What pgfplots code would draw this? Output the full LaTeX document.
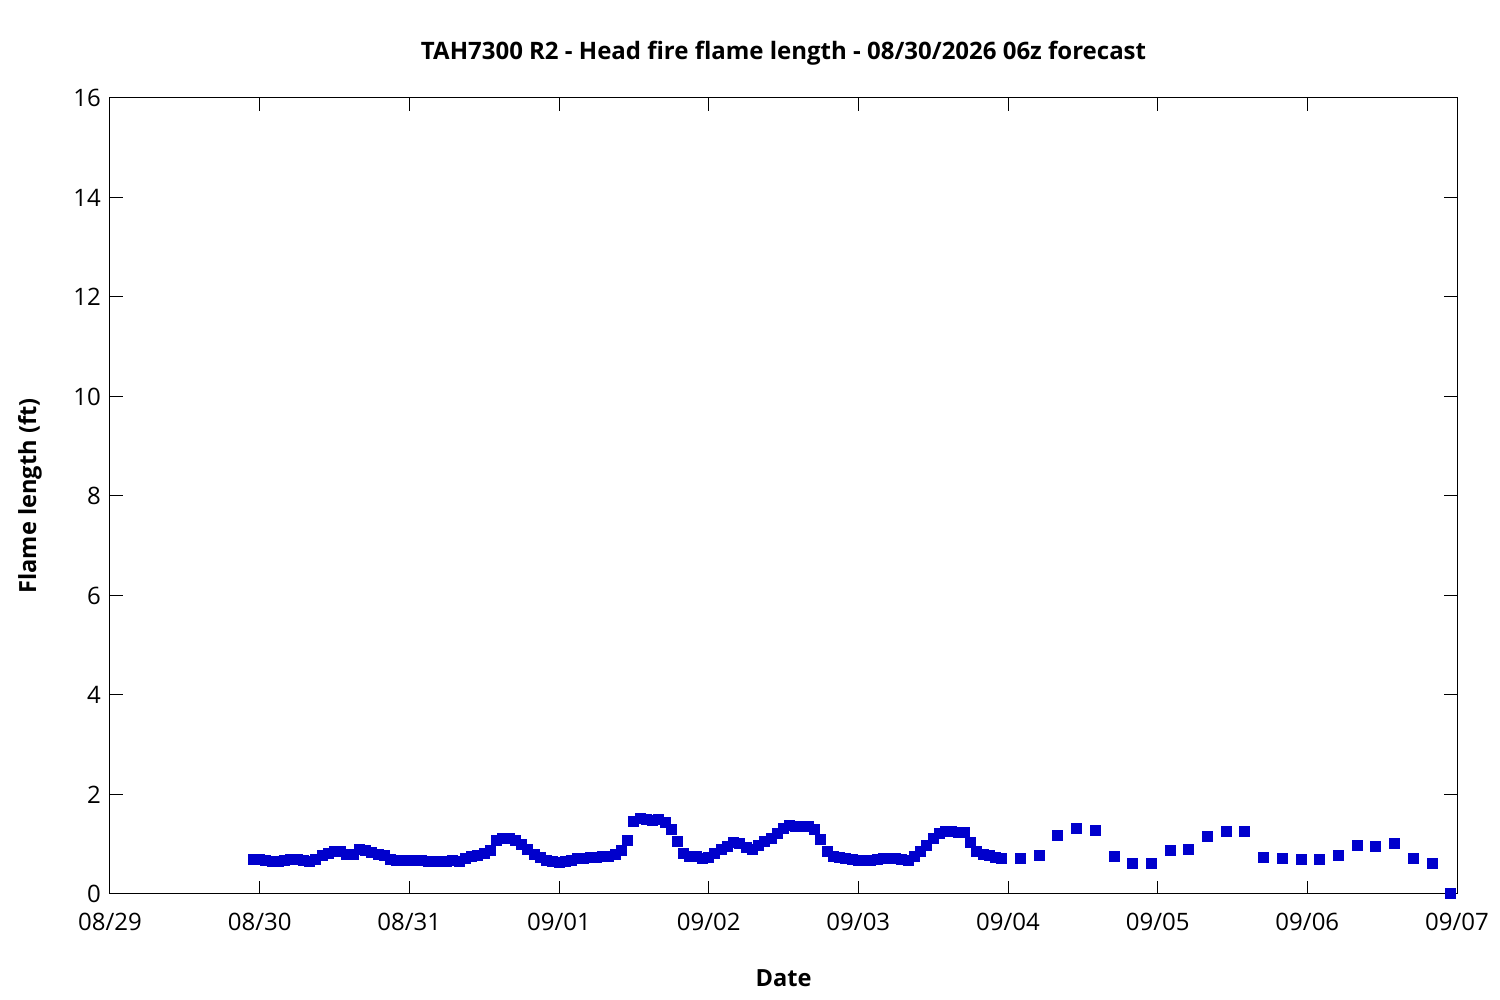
\documentclass[border=0pt]{standalone}
\usepackage{fontspec}
\setmainfont{Open Sans}
\usepackage{pgfplots}
\pgfplotsset{compat=1.18}
\definecolor{ptblue}{RGB}{0,0,204}
\begin{document}
\begin{tikzpicture}[font=\fontsize{12}{14}\selectfont]
\useasboundingbox (-55pt,-53pt) rectangle (695pt,447pt);
\begin{axis}[
  at={(0pt,0pt)}, anchor=south west,
  scale only axis, width=673.5pt, height=398pt,
  xmin=0, xmax=216, ymin=0, ymax=16,
  xtick={0,24,48,72,96,120,144,168,192,216},
  xticklabels={08/29,08/30,08/31,09/01,09/02,09/03,09/04,09/05,09/06,09/07},
  ytick={0,2,4,6,8,10,12,14,16},
  tick align=inside, tick pos=both, major tick length=6.3pt,
  axis line style={line width=0.5pt}, tick style={line width=0.5pt, black},
  /pgf/number format/assume math mode=true,
  xticklabel style={anchor=north, yshift=-6pt},
  yticklabel style={anchor=east, xshift=-1pt},
  title={\bfseries TAH7300 R2 - Head fire flame length - 08/30/2026 06z forecast},
  title style={font=\fontsize{12}{14}\selectfont\bfseries, at={(axis description cs:0.5,1)}, anchor=base, yshift=13pt},
  xlabel={\bfseries Date},
  xlabel style={font=\fontsize{11.8}{14}\selectfont\bfseries, at={([yshift=-42pt]axis description cs:0.5,0)}, anchor=center},
  ylabel={\bfseries Flame length (ft)},
  ylabel style={font=\fontsize{11.8}{14}\selectfont\bfseries, at={([xshift=-40pt]axis description cs:0,0.5)}, anchor=center},
  clip mode=individual,
]
\addplot[only marks, mark=square*, mark size=2.5pt, mark options={fill=ptblue, draw=ptblue, line width=0pt}] coordinates {
(23,0.69)(24,0.69)(25,0.67)(26,0.65)(27,0.66)(28,0.67)(29,0.69)(30,0.69)(31,0.67)(32,0.66)
(33,0.70)(34,0.78)(35,0.82)(36,0.85)(37,0.86)(38,0.80)(39,0.80)(40,0.90)(41,0.87)(42,0.84)
(43,0.80)(44,0.78)(45,0.70)(46,0.67)(47,0.67)(48,0.67)(49,0.67)(50,0.67)(51,0.65)(52,0.65)
(53,0.65)(54,0.65)(55,0.67)(56,0.65)(57,0.71)(58,0.75)(59,0.78)(60,0.81)(61,0.87)(62,1.08)
(63,1.12)(64,1.12)(65,1.08)(66,1.00)(67,0.90)(68,0.79)(69,0.74)(70,0.68)(71,0.66)(72,0.64)
(73,0.66)(74,0.68)(75,0.72)(76,0.72)(77,0.74)(78,0.74)(79,0.75)(80,0.76)(81,0.79)(82,0.88)
(83,1.08)(84,1.45)(85,1.52)(86,1.49)(87,1.47)(88,1.50)(89,1.43)(90,1.30)(91,1.06)(92,0.81)
(93,0.76)(94,0.76)(95,0.71)(96,0.73)(97,0.81)(98,0.90)(99,0.96)(100,1.04)(101,1.01)(102,0.94)
(103,0.89)(104,0.98)(105,1.06)(106,1.11)(107,1.22)(108,1.31)(109,1.37)(110,1.35)(111,1.35)(112,1.35)
(113,1.30)(114,1.10)(115,0.85)(116,0.76)(117,0.73)(118,0.71)(119,0.69)(120,0.68)(121,0.68)(122,0.68)
(123,0.69)(124,0.71)(125,0.72)(126,0.71)(127,0.69)(128,0.68)(129,0.75)(130,0.85)(131,0.98)(132,1.12)
(133,1.22)(134,1.26)(135,1.25)(136,1.24)(137,1.24)(138,1.04)(139,0.85)(140,0.80)(141,0.78)(142,0.73)
(143,0.72)
(146,0.72)(149,0.78)(152,1.18)(155,1.32)(158,1.28)(161,0.76)(164,0.62)(167,0.62)
(170,0.88)(173,0.90)(176,1.16)(179,1.26)(182,1.26)(185,0.74)(188,0.72)(191,0.70)
(194,0.70)(197,0.78)(200,0.98)(203,0.96)(206,1.02)(209,0.72)(212,0.62)(215,0.00)
};
\end{axis}
\end{tikzpicture}
\end{document}
